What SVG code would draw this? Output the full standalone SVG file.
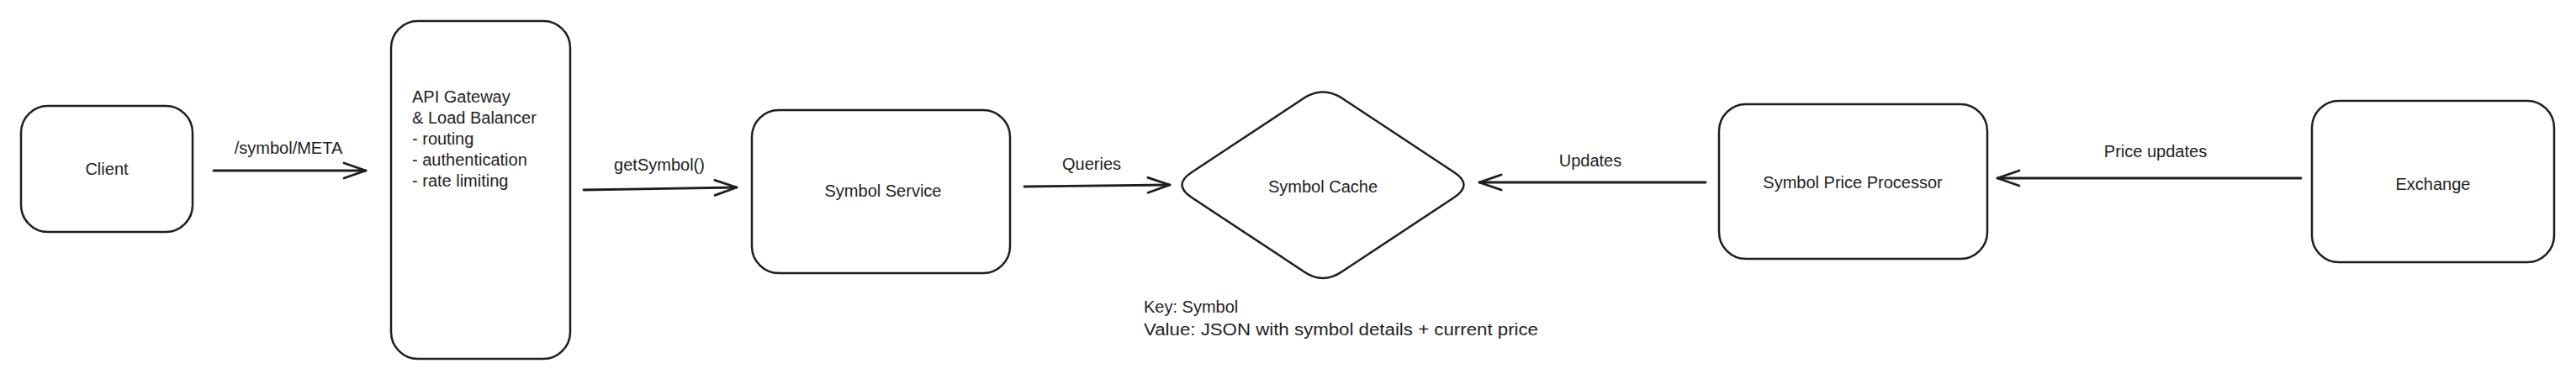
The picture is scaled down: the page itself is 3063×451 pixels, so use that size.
<svg xmlns="http://www.w3.org/2000/svg" width="3063" height="451" viewBox="0 0 3063 451">
<style>
.box{fill:#ffffff;stroke:#1e1e1e;stroke-width:2.5}
.t{font-family:"Liberation Sans","Noto Sans",sans-serif;font-size:20px;fill:#1e1e1e}
.c{text-anchor:middle}
.line{fill:none;stroke:#1e1e1e;stroke-width:2.8;stroke-linecap:round}
</style>
<defs>
<marker id="arr" markerUnits="userSpaceOnUse" markerWidth="32" markerHeight="26" refX="29" refY="13" orient="auto">
<path d="M3,4 L29,13 L3,22" fill="none" stroke="#1e1e1e" stroke-width="2.8" stroke-linecap="round" stroke-linejoin="round"/>
</marker>
</defs>
<rect width="3063" height="451" fill="#ffffff"/>
<g id="client">
<rect class="box" x="25" y="126" width="204" height="150" rx="32"/>
<text class="t c" x="127" y="208">Client</text>
</g>
<g id="gateway">
<rect class="box" x="465" y="25" width="213" height="402" rx="32"/>
<text class="t" x="490" y="122">API Gateway</text>
<text class="t" x="490" y="147">&amp; Load Balancer</text>
<text class="t" x="490" y="172">- routing</text>
<text class="t" x="490" y="197">- authentication</text>
<text class="t" x="490" y="222">- rate limiting</text>
</g>
<g id="symbol-service">
<rect class="box" x="894" y="131" width="307" height="194" rx="32"/>
<text class="t c" x="1050" y="234">Symbol Service</text>
</g>
<g id="symbol-cache">
<path class="box" d="M1550,117 Q1573,102 1596,117 L1729,205 Q1752,220 1729,235 L1596,323 Q1573,339 1550,323 L1417,235 Q1394,220 1417,205 Z"/>
<text class="t c" x="1573" y="229">Symbol Cache</text>
</g>
<g id="cache-note">
<text class="t" x="1360" y="372">Key: Symbol</text>
<text class="t" x="1360" y="399" textLength="469" lengthAdjust="spacingAndGlyphs">Value: JSON with symbol details + current price</text>
</g>
<g id="price-processor">
<rect class="box" x="2044" y="124" width="319" height="184" rx="32"/>
<text class="t c" x="2203" y="224">Symbol Price Processor</text>
</g>
<g id="exchange">
<rect class="box" x="2749" y="120" width="288" height="192" rx="32"/>
<text class="t c" x="2893" y="226">Exchange</text>
</g>
<g id="connectors">
<path class="line" d="M254,203 L435,203" marker-end="url(#arr)"/>
<text class="t c" x="343" y="183">/symbol/META</text>
<path class="line" d="M694,226 L876,223" marker-end="url(#arr)"/>
<text class="t c" x="784" y="203">getSymbol()</text>
<path class="line" d="M1218,222 L1391,220" marker-end="url(#arr)"/>
<text class="t c" x="1298" y="202">Queries</text>
<path class="line" d="M2028,217 L1759,217" marker-end="url(#arr)"/>
<text class="t c" x="1891" y="198">Updates</text>
<path class="line" d="M2736,212 L2375,212" marker-end="url(#arr)"/>
<text class="t c" x="2563" y="187">Price updates</text>
</g>
</svg>
